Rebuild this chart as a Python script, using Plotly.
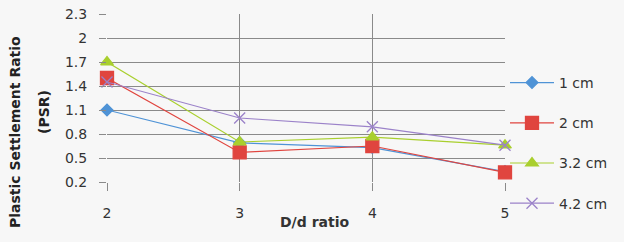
import plotly.graph_objects as go

x_ratio = [2, 3, 4, 5]
series_names = ["1 cm", "2 cm", "3.2 cm", "4.2 cm"]
psr_1cm = [1.10, 0.69, 0.63, 0.33]
psr_2cm = [1.50, 0.57, 0.65, 0.32]
psr_32cm = [1.70, 0.70, 0.76, 0.66]
psr_42cm = [1.45, 1.00, 0.89, 0.66]
y_ticks = [0.2, 0.5, 0.8, 1.1, 1.4, 1.7, 2.0, 2.3]
y_tick_labels = ["0.2", "0.5", "0.8", "1.1", "1.4", "1.7", "2", "2.3"]

colors = ["#4F93D6", "#E0453F", "#A9CF2E", "#9B82C9"]
symbols = ["diamond", "square", "triangle-up", "x-thin-open"]
sizes = [9, 13, 11, 11]
values = [psr_1cm, psr_2cm, psr_32cm, psr_42cm]

fig = go.Figure()
for i, (name, vals) in enumerate(zip(series_names, values)):
    fig.add_trace(go.Scatter(
        x=x_ratio, y=vals, name=name, mode="lines+markers",
        line=dict(color=colors[i], width=1.2),
        marker=dict(symbol=symbols[i], size=sizes[i], color=colors[i],
                    line=dict(color=colors[i], width=1.3)),
        cliponaxis=False, legendgroup=f"g{i}",
    ))

font_family = "DejaVu Sans, Verdana, sans-serif"
fig.update_layout(
    width=624, height=242,
    margin=dict(l=107, r=119, t=14, b=60, autoexpand=False),
    paper_bgcolor="#F7F7F7", plot_bgcolor="#F7F7F7",
    font=dict(family=font_family, size=13, color="#333333"),
    showlegend=True,
    legend=dict(x=1.0, y=(182 - 67) / 168, xanchor="left", yanchor="top",
                traceorder="grouped", tracegroupgap=19, itemwidth=44,
                font=dict(size=14, color="#333333"),
                bgcolor="rgba(0,0,0,0)"),
    xaxis=dict(range=[2, 5], tickvals=x_ratio, ticktext=[str(v) for v in x_ratio],
               showgrid=True, gridcolor="#8A8A8A", gridwidth=1.3,
               ticks="outside", ticklen=8, tickcolor="#8A8A8A", tickwidth=1.3,
               ticklabelstandoff=10, zeroline=False, showline=False,
               tickfont=dict(size=14, color="#333333")),
    yaxis=dict(range=[0.2, 2.3], tickvals=y_ticks, ticktext=y_tick_labels,
               showgrid=True, gridcolor="#8A8A8A", gridwidth=1.3,
               ticks="outside", ticklen=7, tickcolor="#8A8A8A", tickwidth=1.3,
               ticklabelstandoff=9, zeroline=False, showline=False,
               tickfont=dict(size=14, color="#333333")),
)

fig.add_annotation(text="<b>Plastic Settlement Ratio</b>", textangle=-90,
                   xref="paper", yref="paper", x=-92 / 398, y=(182 - 132) / 168,
                   xanchor="center", yanchor="middle", showarrow=False,
                   font=dict(size=14, color="#222222"))
fig.add_annotation(text="<b>(PSR)</b>", textangle=-90,
                   xref="paper", yref="paper", x=-63 / 398, y=(182 - 112) / 168,
                   xanchor="center", yanchor="middle", showarrow=False,
                   font=dict(size=14, color="#222222"))
fig.add_annotation(text="<b>D/d ratio</b>", xref="paper", yref="paper",
                   x=(314 - 107) / 398, y=-(222 - 182) / 168,
                   xanchor="center", yanchor="middle", showarrow=False,
                   font=dict(size=14, color="#333333"))

fig.write_html("out.html", config={"displayModeBar": False},
               post_script="document.body.style.margin='0';")
